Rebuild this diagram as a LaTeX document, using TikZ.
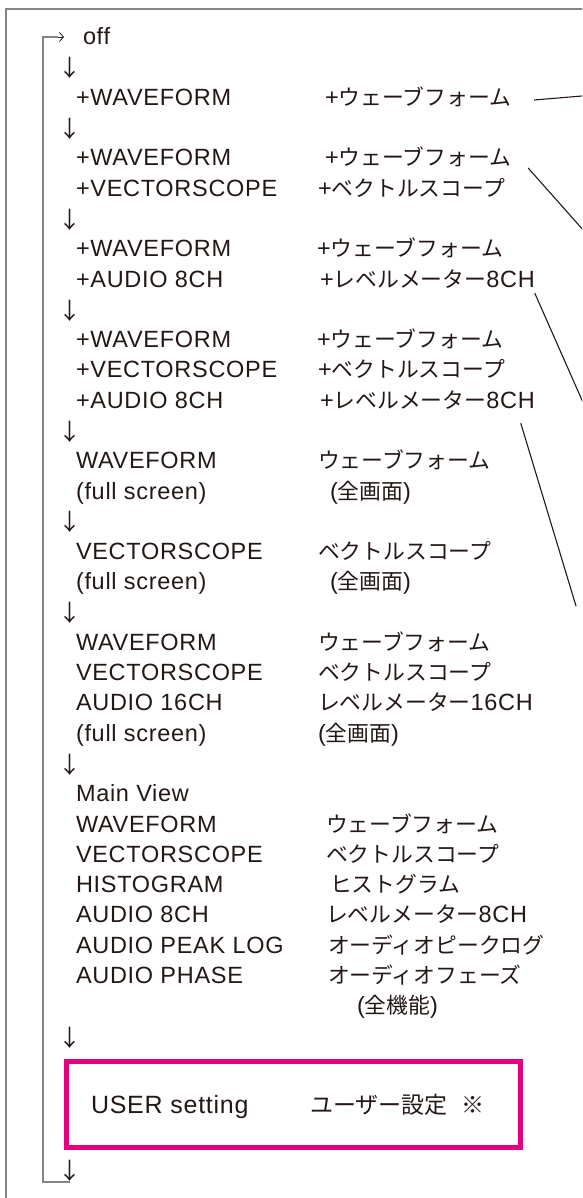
\documentclass[tikz,border=0pt]{standalone}
\usepackage{fontspec}
\usetikzlibrary{arrows.meta,calc}
\newfontfamily\lat{Liberation Sans}[LetterSpace=3]
\newfontfamily\jp{Noto Sans CJK JP}
\newcommand\J[1]{{\jp\fontsize{21.8}{28}\selectfont #1}}
\newcommand\JB[1]{{\jp\fontsize{23}{28}\selectfont #1}}
\definecolor{ink}{HTML}{231815}
\definecolor{framegray}{HTML}{858585}
\definecolor{magenta}{HTML}{E4007F}
\begin{document}
\begin{tikzpicture}[x=1pt,y=-1pt,
  txt/.style={anchor=base west, inner sep=0pt, outer sep=0pt, text=ink, font=\lat\fontsize{23.5}{28}\selectfont},
  boxtxt/.style={txt, font=\lat\fontsize{25}{30}\selectfont},
  arr/.style={anchor=center, inner sep=0pt, text=ink, font=\jp\fontsize{23}{27}\selectfont},
  framel/.style={draw=framegray, line width=2.2pt},
  conn/.style={draw=ink, line width=1.1pt},
  userbox/.style={draw=magenta, line width=5pt}]
\useasboundingbox (0,0) rectangle (582,1198);
\clip (0,0) rectangle (582,1198);
% outer frame
\draw[framel] (6,1205) -- (6,9) -- (590,9);
% loop line
\coordinate (lt) at (58,37);
\coordinate (ltip) at (64,37);
\coordinate (lb) at (70,1182);
\draw[framel] (lb) -- (43,1182) -- (43,37) -- (lt);
\draw[ink, line width=0.8pt, -{Straight Barb[length=4pt,width=9pt,line width=0.8pt]}] (lt) -- (ltip);

% left / right columns
\node[txt] (off) at (83,45) {off};
\node[arr] (a1) at (70,68) {↓};
\node[txt] (l2) at (76,105.5) {+WAVEFORM};
\node[txt] (r2) at (325,105.5) {+\J{ウェーブフォーム}};
\node[arr] (a3) at (70,128.8) {↓};
\node[txt] (l4) at (76,166.0) {+WAVEFORM};
\node[txt] (r4) at (325,166.0) {+\J{ウェーブフォーム}};
\node[txt] (l5) at (76,196.3) {+VECTORSCOPE};
\node[txt] (r5) at (318,196.3) {+\J{ベクトルスコープ}};
\node[arr] (a6) at (70,219.6) {↓};
\node[txt] (l7) at (76,256.8) {+WAVEFORM};
\node[txt] (r7) at (317,256.8) {+\J{ウェーブフォーム}};
\node[txt] (l8) at (76,287.1) {+AUDIO 8CH};
\node[txt] (r8) at (320,287.1) {+\J{レベルメーター}8CH};
\node[arr] (a9) at (70,310.4) {↓};
\node[txt] (l10) at (76,347.7) {+WAVEFORM};
\node[txt] (r10) at (317,347.7) {+\J{ウェーブフォーム}};
\node[txt] (l11) at (76,377.9) {+VECTORSCOPE};
\node[txt] (r11) at (318,377.9) {+\J{ベクトルスコープ}};
\node[txt] (l12) at (76,408.2) {+AUDIO 8CH};
\node[txt] (r12) at (320,408.2) {+\J{レベルメーター}8CH};
\node[arr] (a13) at (70,431.5) {↓};
\node[txt] (l14) at (76,468.7) {WAVEFORM};
\node[txt] (r14) at (318,468.7) {\J{ウェーブフォーム}};
\node[txt] (l15) at (76,499.0) {(full screen)};
\node[txt] (r15) at (330,499.0) {(\J{全画面})};
\node[arr] (a16) at (70,522.3) {↓};
\node[txt] (l17) at (76,559.5) {VECTORSCOPE};
\node[txt] (r17) at (318,559.5) {\J{ベクトルスコープ}};
\node[txt] (l18) at (76,589.8) {(full screen)};
\node[txt] (r18) at (330,589.8) {(\J{全画面})};
\node[arr] (a19) at (70,613.1) {↓};
\node[txt] (l20) at (76,650.4) {WAVEFORM};
\node[txt] (r20) at (318,650.4) {\J{ウェーブフォーム}};
\node[txt] (l21) at (76,680.6) {VECTORSCOPE};
\node[txt] (r21) at (318,680.6) {\J{ベクトルスコープ}};
\node[txt] (l22) at (76,710.9) {AUDIO 16CH};
\node[txt] (r22) at (318,710.9) {\J{レベルメーター}16CH};
\node[txt] (l23) at (76,741.2) {(full screen)};
\node[txt] (r23) at (318,741.2) {(\J{全画面})};
\node[arr] (a24) at (70,764.4) {↓};
\node[txt] (l25) at (76,801.7) {Main View};
\node[txt] (l26) at (76,832.0) {WAVEFORM};
\node[txt] (r26) at (326,832.0) {\J{ウェーブフォーム}};
\node[txt] (l27) at (76,862.2) {VECTORSCOPE};
\node[txt] (r27) at (326,862.2) {\J{ベクトルスコープ}};
\node[txt] (l28) at (76,892.5) {HISTOGRAM};
\node[txt] (r28) at (330,892.5) {\J{ヒストグラム}};
\node[txt] (l29) at (76,922.8) {AUDIO 8CH};
\node[txt] (r29) at (326,922.8) {\J{レベルメーター}8CH};
\node[txt] (l30) at (76,953.0) {AUDIO PEAK LOG};
\node[txt] (r30) at (328,953.0) {\J{オーディオピークログ}};
\node[txt] (l31) at (76,983.3) {AUDIO PHASE};
\node[txt] (r31) at (328,983.3) {\J{オーディオフェーズ}};
\node[txt] (r32) at (357,1013.6) {(\J{全機能})};
\node[arr] (a33) at (70,1038) {↓};
% user box
\draw[userbox] (66,1061) rectangle (520,1147);
\node[boxtxt] (user) at (91,1113) {USER setting};
\node[boxtxt] (userj) at (310,1113) {\JB{ユーザー設定\hspace{9pt} ※}};
\node[arr] (a35) at (70,1171) {↓};

% connectors leaving the picture
\coordinate (e1) at (600,94.5);
\coordinate (e2) at (600,249);
\coordinate (e3) at (600,441);
\coordinate (e4) at (576,606);
\draw[conn] ($(r2.base east)+(23,-5.5)$) -- (e1);
\draw[conn] ($(r4.base east)+(17,2)$) -- (e2);
\draw[conn] ($(r8.base east)+(0,6)$) -- (e3);
\draw[conn] ($(r12.base east)+(-14,15)$) -- (e4);
\end{tikzpicture}
\end{document}
